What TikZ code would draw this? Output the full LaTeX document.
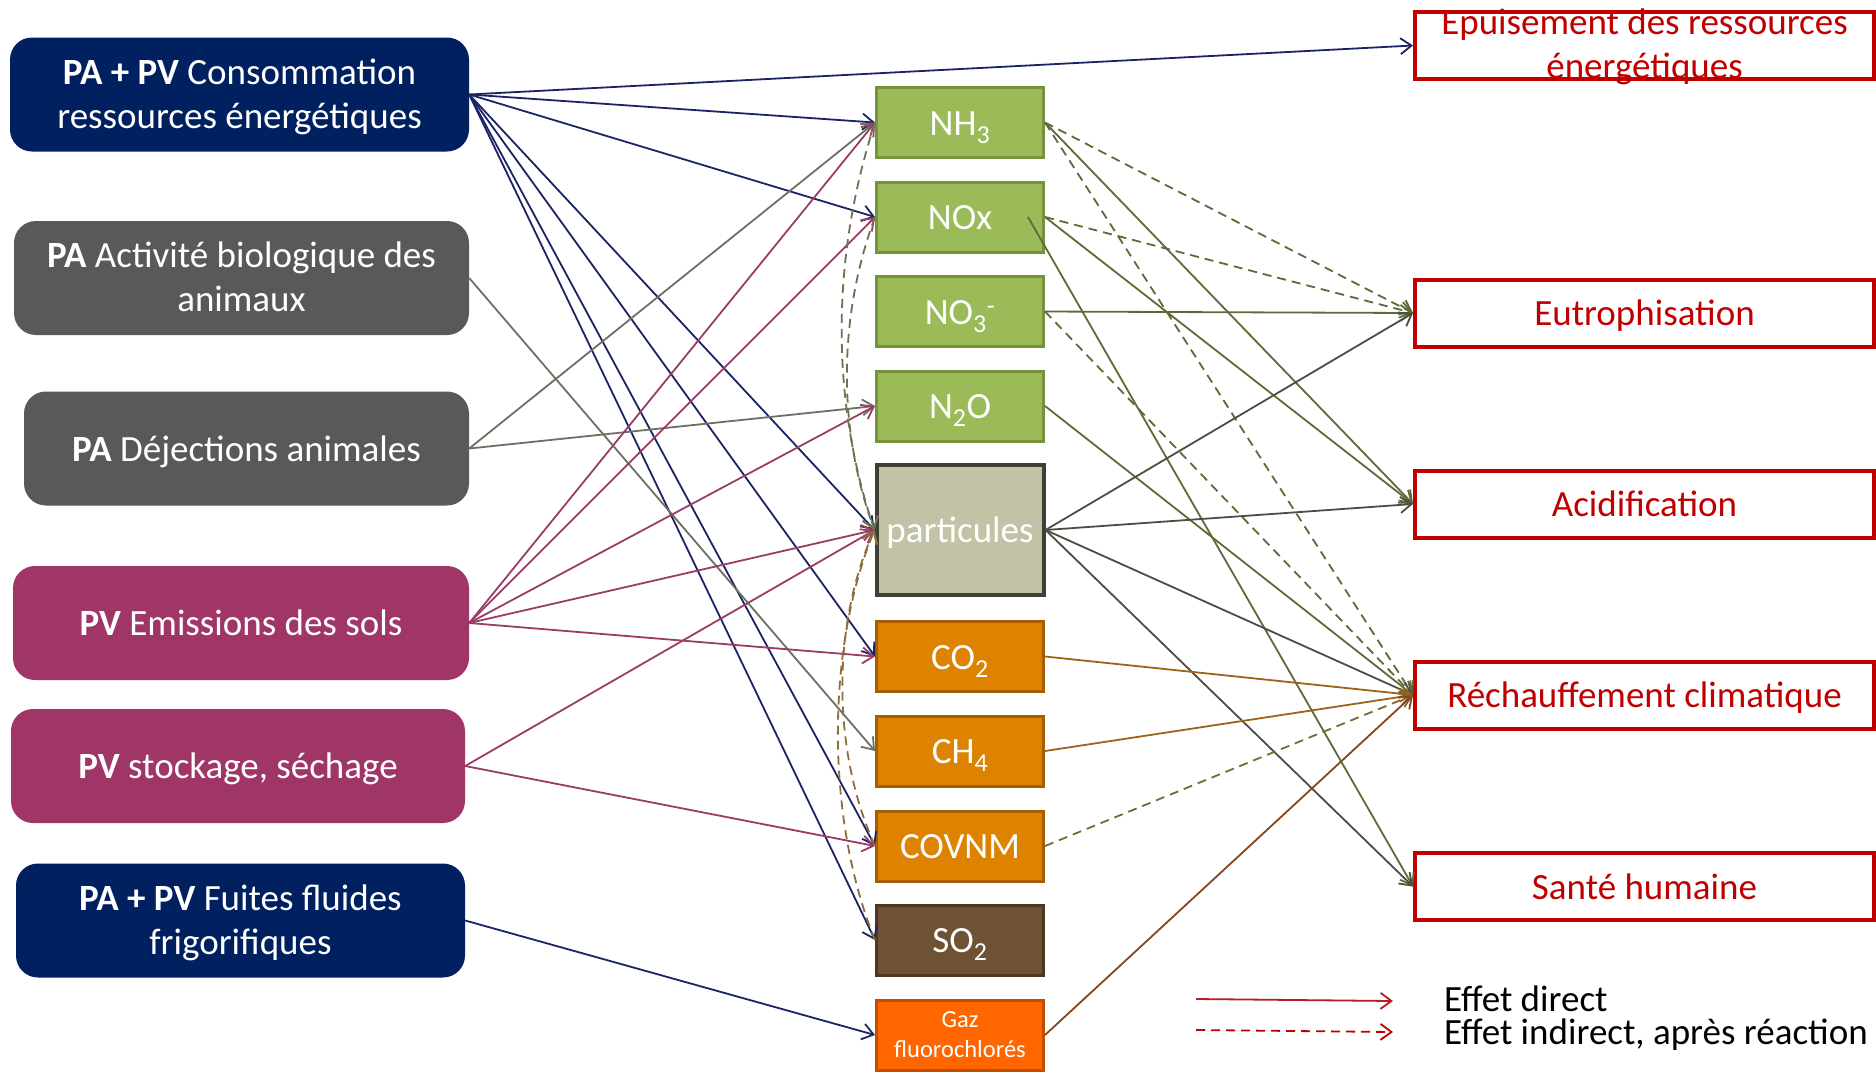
\documentclass[tikz,border=0pt]{standalone}
\usepackage{fontspec}
\setmainfont{Carlito}
\usetikzlibrary{arrows.meta,calc}
\definecolor{navybox}{HTML}{002060}
\definecolor{graybox}{HTML}{595959}
\definecolor{magbox}{HTML}{9F3667}
\definecolor{greenfill}{HTML}{9BBB59}
\definecolor{greenline}{HTML}{76923C}
\definecolor{partfill}{HTML}{C2C2A6}
\definecolor{partline}{HTML}{3F3F33}
\definecolor{orfill}{HTML}{DE8300}
\definecolor{orline}{HTML}{A65E05}
\definecolor{so2fill}{HTML}{6F5234}
\definecolor{so2line}{HTML}{4D3722}
\definecolor{gazfill}{HTML}{FF6600}
\definecolor{gazline}{HTML}{C24E00}
\definecolor{redc}{HTML}{C00000}
\definecolor{cnavy}{HTML}{1B2464}
\definecolor{cgray}{HTML}{6E7062}
\definecolor{cmag}{HTML}{9A3D66}
\definecolor{colive}{HTML}{5C6C38}
\definecolor{cpart}{HTML}{4B4E44}
\definecolor{corange}{HTML}{9C6418}
\definecolor{ccov}{HTML}{786A34}
\definecolor{cgaz}{HTML}{874520}
\definecolor{cbrown}{HTML}{8E6E3E}
\definecolor{cdolive}{HTML}{6B7350}
\definecolor{legred}{HTML}{B81C24}
\begin{document}
\begin{tikzpicture}[x=1pt,y=-1pt,
  bigfont/.style={font=\fontsize{37pt}{44pt}\selectfont},
  oneline/.style={text height=25pt, text depth=0pt},
  twoline/.style={text height=71pt, text depth=4pt},
  lbox/.style={bigfont, rounded corners=22pt, text=white, align=center, minimum height=114pt, inner sep=0pt},
  mbox/.style={bigfont, text=white, minimum width=167pt, minimum height=70pt, line width=3pt, inner sep=0pt},
  rbox/.style={bigfont, oneline, draw=redc, line width=4pt, fill=white, text=redc, minimum width=459pt, minimum height=67pt, inner sep=0pt},
  conn/.style={line width=1.8pt, -{Straight Barb[length=11pt,width=16pt]}},
  ind/.style={conn, dash pattern=on 9pt off 6pt},
]
\useasboundingbox (0,0) rectangle (1876,1072);
\fill[white] (0,0) rectangle (1876,1072);

% left boxes
\node[lbox, twoline, fill=navybox, minimum width=459pt] (b1) at (239.5,94.5) {\textbf{PA + PV} Consommation\\ressources énergétiques};
\node[lbox, twoline, fill=graybox, minimum width=455pt] (b2) at (241.5,278) {\textbf{PA} Activité biologique des\\animaux};
\node[lbox, oneline, fill=graybox, minimum width=445pt] (b3) at (246.5,448.5) {\textbf{PA} Déjections animales};
\node[lbox, oneline, fill=magbox, minimum width=456pt] (b4) at (241,623) {\textbf{PV} Emissions des sols};
\node[lbox, oneline, fill=magbox, minimum width=454pt] (b5) at (238,766) {\textbf{PV} stockage, séchage};
\node[lbox, twoline, fill=navybox, minimum width=449pt] (b6) at (240.5,920.5) {\textbf{PA + PV} Fuites fluides\\frigorifiques};

% middle boxes
\node[mbox, oneline, fill=greenfill, draw=greenline] (nh3) at (960,122.5) {NH\textsubscript{3}};
\node[mbox, oneline, fill=greenfill, draw=greenline] (nox) at (960,217) {NOx};
\node[mbox, oneline, fill=greenfill, draw=greenline] (no3) at (960,311.5) {NO\textsubscript{3}\textsuperscript{-}};
\node[mbox, oneline, fill=greenfill, draw=greenline] (n2o) at (960,406) {N\textsubscript{2}O};
\node[mbox, oneline, fill=partfill, draw=partline, line width=4pt, minimum height=130pt] (part) at (960,530) {particules};
\node[mbox, oneline, fill=orfill, draw=orline] (co2) at (960,656.5) {CO\textsubscript{2}};
\node[mbox, oneline, fill=orfill, draw=orline] (ch4) at (960,751) {CH\textsubscript{4}};
\node[mbox, oneline, fill=orfill, draw=orline] (covnm) at (960,846) {COVNM};
\node[mbox, oneline, fill=so2fill, draw=so2line] (so2) at (960,940) {SO\textsubscript{2}};
\node[mbox, fill=gazfill, draw=gazline, align=center, font=\fontsize{24.5pt}{30pt}\selectfont] (gaz) at (960,1035) {Gaz\\fluorochlorés};

% right boxes
\node[rbox] (epu) at (1644.5,45.5) {};
\node[text=redc, align=center, font=\fontsize{37pt}{44pt}\selectfont, text height=71pt, text depth=3pt, inner sep=0pt] (eputxt) at (1644.5,44) {Epuisement des ressources\\énergétiques};
\node[rbox] (eut) at (1644.5,313) {Eutrophisation};
\node[rbox] (aci) at (1644.5,504) {Acidification};
\node[rbox] (rec) at (1644.5,695) {Réchauffement climatique};
\node[rbox] (san) at (1644.5,886.5) {Santé humaine};

% navy connectors
\draw[conn, cnavy] (b1.east) -- (epu.west);
\draw[conn, cnavy] (b1.east) -- (nh3.west);
\draw[conn, cnavy] (b1.east) -- (nox.west);
\draw[conn, cnavy] (b1.east) -- (part.west);
\draw[conn, cnavy] (b1.east) -- (co2.west);
\draw[conn, cnavy] (b1.east) -- (covnm.west);
\draw[conn, cnavy] (b1.east) -- (so2.west);
\draw[conn, cnavy] (b6.east) -- (gaz.west);
% gray connectors
\draw[conn, cgray] (b2.east) -- (ch4.west);
\draw[conn, cgray] (b3.east) -- (nh3.west);
\draw[conn, cgray] (b3.east) -- (n2o.west);
% magenta connectors
\draw[conn, cmag] (b4.east) -- (nh3.west);
\draw[conn, cmag] (b4.east) -- (nox.west);
\draw[conn, cmag] (b4.east) -- (n2o.west);
\draw[conn, cmag] (b4.east) -- (part.west);
\draw[conn, cmag] (b4.east) -- (co2.west);
\draw[conn, cmag] (b5.east) -- (part.west);
\draw[conn, cmag] (b5.east) -- (covnm.west);

% indirect curves into particules
\draw[ind, cdolive] (nh3.west) .. controls ($(nh3.west)+(-44,135)$) and ($(part.west)+(-44,-130)$) .. (part.west);
\draw[ind, cdolive] (nox.west) .. controls ($(nox.west)+(-37,100)$) and ($(part.west)+(-37,-100)$) .. (part.west);
\draw[ind, cbrown] (so2.west) .. controls ($(so2.west)+(-49,-120)$) and ($(part.west)+(-49,120)$) .. (part.west);
\draw[ind, cbrown] (covnm.west) .. controls ($(covnm.west)+(-43,-95)$) and ($(part.west)+(-43,95)$) .. (part.west);

% olive connectors to impacts
\draw[conn, colive] (nh3.east) -- (aci.west);
\draw[conn, colive] (nox.east) -- (aci.west);
\draw[conn, colive] ([xshift=-17pt]nox.east) -- (san.west);
\draw[conn, colive] (no3.east) -- (eut.west);
\draw[conn, colive] (n2o.east) -- (rec.west);
\draw[ind, colive] (nh3.east) -- (eut.west);
\draw[ind, colive] (nh3.east) -- (rec.west);
\draw[ind, colive] (nox.east) -- (eut.west);
\draw[ind, colive] (no3.east) -- (rec.west);
% particules
\draw[conn, cpart] (part.east) -- (eut.west);
\draw[conn, cpart] (part.east) -- (aci.west);
\draw[conn, cpart] (part.east) -- (rec.west);
\draw[conn, cpart] (part.east) -- (san.west);
% greenhouse
\draw[conn, corange] (co2.east) -- (rec.west);
\draw[conn, corange] (ch4.east) -- (rec.west);
\draw[ind, ccov] (covnm.east) -- (rec.west);
\draw[conn, cgaz] (gaz.east) -- (rec.west);

% legend
\coordinate (l1a) at (1196,999);
\coordinate (l1b) at (1393,1001);
\coordinate (l2a) at (1196,1030);
\coordinate (l2b) at (1393,1032);
\draw[conn, legred] (l1a) -- (l1b);
\draw[ind, redc] (l2a) -- (l2b);
\node[font=\fontsize{37pt}{33pt}\selectfont, align=left, text height=60pt, text depth=0pt, anchor=south west, inner sep=0pt] (leg) at (1444,1045) {Effet direct\\Effet indirect, après réaction};
\end{tikzpicture}
\end{document}
